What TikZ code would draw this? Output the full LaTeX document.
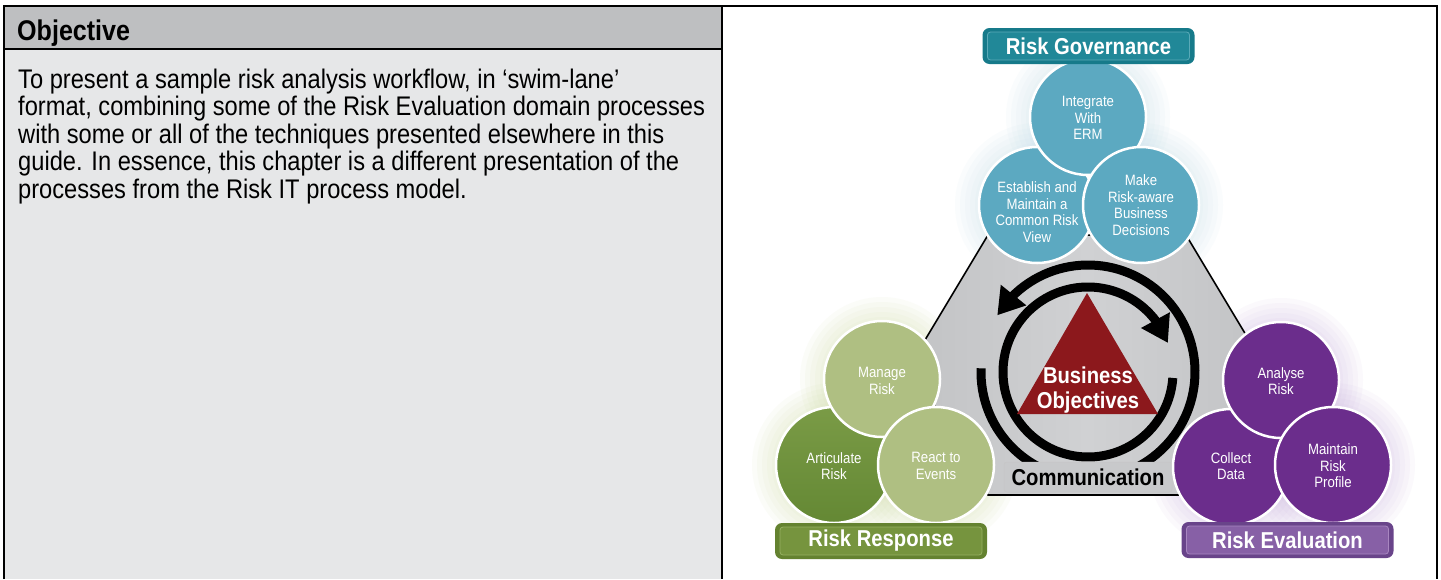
\documentclass[tikz,border=0pt]{standalone}
\usepackage{fontspec}
\setmainfont{Liberation Sans}
\newfontfamily\cnd{Liberation Sans}[FakeStretch=0.88]
\usetikzlibrary{arrows.meta,bending}

\definecolor{hdrgray}{RGB}{190,191,193}
\definecolor{bodygray}{RGB}{230,231,232}
\definecolor{hexgray}{RGB}{194,195,197}
\definecolor{hexlight}{RGB}{208,209,211}
\definecolor{commgray}{RGB}{200,201,203}
\definecolor{govblue}{RGB}{92,169,193}
\definecolor{govout}{RGB}{22,122,138}
\definecolor{govin}{RGB}{33,136,152}
\definecolor{govline}{RGB}{90,170,184}
\definecolor{govhalo}{RGB}{190,220,232}
\definecolor{resplight}{RGB}{175,191,130}
\definecolor{respdark}{RGB}{100,136,52}
\definecolor{respdarktop}{RGB}{122,155,70}
\definecolor{respout}{RGB}{100,130,48}
\definecolor{respin}{RGB}{118,148,62}
\definecolor{respline}{RGB}{150,176,98}
\definecolor{resphalo}{RGB}{205,220,160}
\definecolor{evalpurple}{RGB}{107,45,140}
\definecolor{evalout}{RGB}{105,68,138}
\definecolor{evalin}{RGB}{135,96,166}
\definecolor{evalline}{RGB}{168,134,192}
\definecolor{evalhalo}{RGB}{200,175,222}
\definecolor{bizred}{RGB}{140,24,28}

\tikzset{
  frame/.style={line width=2pt, draw=black},
  bodytext/.style={font=\cnd\fontsize{26.9}{27.5}\selectfont, align=left, inner sep=0pt},
  proc/.style={circle, minimum size=116pt, inner sep=0pt, draw=white, line width=2.5pt},
  ctext/.style={font=\cnd\fontsize{15}{16.5}\selectfont, text=white, align=center, inner sep=0pt},
  domain/.style n args={3}{rounded corners=7pt, minimum width=212pt, minimum height=36pt,
    inner sep=0pt, fill=#1, text=white, font=\cnd\bfseries\fontsize{23}{24}\selectfont,
    path picture={\draw[fill=#2, draw=#3, line width=0.8pt, rounded corners=3pt]
      ([shift={(5pt,4pt)}]path picture bounding box.south west) rectangle
      ([shift={(-5pt,-4pt)}]path picture bounding box.north east);}},
  ring/.style={line width=9pt, draw=black},
  halo/.style={fill=#1, fill opacity=0.07, draw=none},
}

\newcommand{\glowat}[3]{%
  \foreach \rr in {62,67,72,77,82}{\fill[halo=#3] (#1,#2) circle[radius=\rr pt];}}

\begin{document}
\begin{tikzpicture}[x=1pt,y=1pt]
\useasboundingbox (0,0) rectangle (1441,-579);
\fill[white] (0,0) rectangle (1441,-579);

% left panel: header band and body
\fill[hdrgray] (4,-6) rectangle (722,-49);
\fill[bodygray] (4,-49) rectangle (722,-579);
\draw[frame] (4,-579) -- (4,-6) -- (1437,-6) -- (1437,-579);
\draw[frame] (722,-6) -- (722,-579);
\draw[frame] (4,-49) -- (722,-49);

\node[anchor=base west, inner sep=0pt, font=\cnd\bfseries\fontsize{28.5}{30}\selectfont] (hdr) at (17,-40) {Objective};
\node[bodytext, anchor=north west] (body) at (18,-68.5) {To present a sample risk analysis workflow, in ‘swim-lane’\\
format, combining some of the Risk Evaluation domain processes\\
with some or all of the techniques presented elsewhere in this\\
guide. In essence, this chapter is a different presentation of the\\
processes from the Risk IT process model.};

% soft halos behind the three clusters
\glowat{1088}{-117}{govhalo}
\glowat{1037}{-205}{govhalo}
\glowat{1141}{-205}{govhalo}
\glowat{882}{-379}{resphalo}
\glowat{834}{-465}{resphalo}
\glowat{936}{-465}{resphalo}
\glowat{1281}{-380}{evalhalo}
\glowat{1231}{-467}{evalhalo}
\glowat{1333}{-465}{evalhalo}

% central hexagon
\draw[line width=1.6pt, left color=hexgray, right color=hexgray, middle color=hexlight]
  (988,-235) -- (1186,-235) -- (1264,-365) -- (1186,-495) -- (988,-495) -- (910,-365) -- cycle;

% circular arrows
\coordinate (c) at (1088,-372);
\draw[ring, -{Triangle[length=26pt,width=31pt]}]
  ([shift={(178:107pt)}]c) arc[start angle=178, end angle=508, radius=107pt];
\draw[ring, -{Triangle[length=26pt,width=31pt]}]
  ([shift={(-4:85pt)}]c) arc[start angle=-4, end angle=-340, radius=85pt];

% business objectives triangle
\fill[bizred] (1087,-293) -- (1158,-414) -- (1017,-414) -- cycle;
\node[font=\cnd\bfseries\fontsize{23}{25}\selectfont, text=white, align=center, inner sep=0pt]
  (biz) at (1088,-390) {Business\\Objectives};

% communication label
\node[rounded corners=3pt, fill=commgray, draw=gray!45, line width=0.5pt,
  minimum width=168pt, minimum height=30pt, inner sep=0pt,
  font=\cnd\bfseries\fontsize{23}{24}\selectfont] (comm) at (1088,-477) {Communication};

% risk governance cluster
\node[proc, fill=govblue] (est) at (1037,-205) {};
\node[proc, fill=govblue] (erm) at (1088,-117) {};
\node[proc, fill=govblue] (dec) at (1141,-205) {};
\node[ctext] (ermT) at (1088,-118) {Integrate\\With\\ERM};
\node[ctext] (estT) at (1037,-212) {Establish and\\Maintain a\\Common Risk\\View};
\node[ctext] (decT) at (1141,-205) {Make\\Risk-aware\\Business\\Decisions};

% risk response cluster
\node[proc, top color=respdarktop, bottom color=respdark] (art) at (834,-465) {};
\node[proc, fill=resplight] (man) at (882,-379) {};
\node[proc, fill=resplight] (rea) at (936,-465) {};
\node[ctext] (manT) at (882,-381) {Manage\\Risk};
\node[ctext] (artT) at (834,-466) {Articulate\\Risk};
\node[ctext] (reaT) at (936,-466) {React to\\Events};

% risk evaluation cluster
\node[proc, fill=evalpurple] (col) at (1231,-467) {};
\node[proc, fill=evalpurple] (ana) at (1281,-380) {};
\node[proc, fill=evalpurple] (mai) at (1333,-465) {};
\node[ctext] (anaT) at (1281,-381) {Analyse\\Risk};
\node[ctext] (colT) at (1231,-466) {Collect\\Data};
\node[ctext] (maiT) at (1333,-466) {Maintain\\Risk\\Profile};

% domain labels
\node[domain={govout}{govin}{govline}] (gov) at (1088.5,-46) {Risk Governance};
\node[domain={respout}{respin}{respline}] (resp) at (881,-541) {Risk Response};
\node[domain={evalout}{evalin}{evalline}] (eval) at (1287.5,-540) {Risk Evaluation};
\end{tikzpicture}
\end{document}
